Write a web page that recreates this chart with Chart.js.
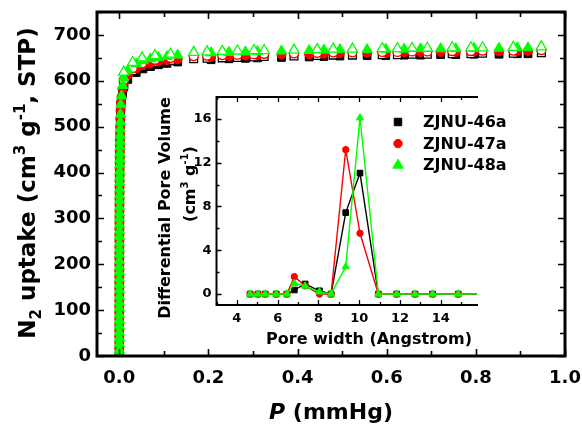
<!DOCTYPE html>
<html>
<head>
<meta charset="utf-8">
<script src="https://cdn.jsdelivr.net/npm/chart.js"></script>
<style>
  body { margin: 0; background: #fff; }
  #wrap { position: relative; width: 582px; height: 427px; }
  #main { position: absolute; left: 0; top: 0; }
  #inset { position: absolute; left: 150px; top: 85px; }
</style>
</head>
<body>
<div id="wrap">
  <canvas id="main" width="582" height="427"></canvas>
  <canvas id="inset" width="380" height="270"></canvas>
</div>
<script>
// ===== main plot: N2 isotherms (filled = adsorption, open = desorption) =====
const pressureAds = [0.00001, 0.000015, 0.00002, 0.000025, 0.00003, 0.000035, 0.00004, 0.00005, 0.00006, 0.00007,
  0.00008, 0.00009, 0.0001, 0.00011, 0.00012, 0.00014, 0.00016, 0.00018, 0.0002, 0.00022,
  0.00025, 0.00028, 0.00031, 0.00035, 0.00039, 0.00044, 0.0005, 0.00056, 0.00063, 0.0007,
  0.00078, 0.00087, 0.00097, 0.0011, 0.0012, 0.0014, 0.0016, 0.0018, 0.002, 0.0023,
  0.0027, 0.0035, 0.005, 0.0075, 0.01, 0.019, 0.038, 0.053, 0.07, 0.088,
  0.107, 0.131, 0.206, 0.246, 0.283, 0.31, 0.364, 0.426, 0.459, 0.495,
  0.556, 0.598, 0.639, 0.676, 0.721, 0.755, 0.796, 0.852, 0.893, 0.917]
const ads46 = [2, 15, 28, 41, 54, 67, 80, 93, 106, 119,
  132, 145, 158, 171, 184, 197, 210, 223, 236, 249,
  262, 275, 288, 301, 314, 327, 340, 353, 366, 379,
  392, 405, 418, 431, 444, 457, 470, 483, 498, 514,
  530, 545, 557, 573, 586, 603, 618, 626, 631, 635,
  638, 641, 646, 648, 649, 650, 651, 652, 653, 654,
  655, 655, 656, 656, 657, 657, 658, 658, 659, 659]
const ads47 = [3, 16, 29, 42, 55, 68, 81, 94, 107, 120,
  133, 146, 159, 172, 185, 198, 211, 224, 237, 250,
  263, 276, 289, 302, 315, 328, 341, 354, 367, 380,
  393, 406, 419, 432, 445, 458, 471, 485, 500, 517,
  535, 553, 565, 582, 595, 612, 627, 634, 638, 642,
  645, 647, 652, 654, 655, 656, 657, 658, 659, 660,
  661, 661, 662, 662, 663, 663, 664, 664, 665, 665]
const ads48 = [1, 13, 27, 39, 52, 66, 78, 91, 105, 117,
  130, 144, 156, 169, 183, 195, 208, 222, 234, 247,
  261, 273, 286, 300, 312, 325, 339, 351, 364, 378,
  390, 403, 417, 429, 442, 456, 468, 481, 495, 510,
  527, 548, 567, 590, 607, 622, 637, 644, 648, 651,
  653, 656, 661, 662, 663, 664, 665, 666, 667, 668,
  668, 669, 669, 670, 670, 670, 671, 671, 672, 672]

const pressureDes = [0.947, 0.884, 0.815, 0.789, 0.747, 0.691, 0.657, 0.624, 0.59, 0.523,
  0.48, 0.444, 0.392, 0.325, 0.302, 0.265, 0.231, 0.197, 0.167, 0.115,
  0.08, 0.051, 0.03, 0.01]
const des46 = [661, 660, 660, 659, 659, 658, 658, 657, 657, 656,
  656, 655, 654, 653, 652, 651, 650, 649, 648, 644,
  640, 632, 622, 592]
const des47 = [667, 666, 666, 665, 665, 664, 664, 663, 663, 662,
  662, 661, 660, 659, 658, 657, 656, 655, 654, 650,
  646, 638, 628, 602]
const des48 = [674, 673, 672, 672, 672, 671, 671, 670, 670, 669,
  669, 668, 667, 666, 666, 665, 664, 663, 662, 658,
  655, 650, 640, 619]

const mainXTicks = [0, 0.2, 0.4, 0.6, 0.8, 1.0]
const mainYTicks = [0, 100, 200, 300, 400, 500, 600, 700]

// ===== inset: pore size distribution =====
const poreWidth = [4.65, 5.03, 5.39, 5.93, 6.45, 6.82, 7.35, 8.05, 8.62, 9.34, 10.04, 10.94, 11.84, 12.74, 13.6, 14.86, 16.2]
const pv46 = [0, 0, 0, 0, 0, 0.37, 0.92, 0.3, 0, 7.44, 11.05, 0, 0, 0, 0, 0, 0]
const pv47 = [0, 0, 0, 0, 0, 1.59, 0.75, 0, 0, 13.19, 5.55, 0, 0, 0, 0, 0, 0]
const pv48 = [0, 0, 0, 0, 0, 0.98, 0.73, 0.2, 0, 2.5, 16.1, 0, 0, 0, 0, 0, 0]

const insetXTicks = [4, 6, 8, 10, 12, 14]
const insetYTicks = [0, 4, 8, 12, 16]

const seriesNames = ['ZJNU-46a', 'ZJNU-47a', 'ZJNU-48a']

const BLACK = '#000000', RED = '#ff0000', GREEN = '#00ff00'
const FONT = '"DejaVu Sans", sans-serif'

const zip = (xs, ys) => xs.map((x, i) => ({ x: x, y: ys[i] }))

// draws a text made of pieces (for sub/superscripts), centred on x,y
function richText(ctx, parts, x, y, angle) {
    ctx.save()
    ctx.translate(x, y)
    ctx.rotate(angle)
    ctx.textAlign = 'left'
    ctx.textBaseline = 'alphabetic'
    ctx.fillStyle = '#000'
    let total = 0
    parts.forEach(p => { ctx.font = p.f; p.w = ctx.measureText(p.t).width; total += p.w })
    let cx = -total / 2
    parts.forEach(p => { ctx.font = p.f; ctx.fillText(p.t, cx, p.dy || 0); cx += p.w })
    ctx.restore()
}

// frame + inward ticks (major and minor)
function frameTicks(chart, o) {
    const { ctx, chartArea: a } = chart
    const x = chart.scales.x, y = chart.scales.y
    ctx.save()
    ctx.strokeStyle = '#000'
    ctx.lineWidth = o.lw
    ctx.lineCap = 'square'
    ctx.beginPath()
    ctx.moveTo(a.left, a.top); ctx.lineTo(a.left, a.bottom)
    ctx.moveTo(a.left, a.bottom); ctx.lineTo(a.right, a.bottom)
    ctx.moveTo(a.left, a.top); ctx.lineTo(a.right, a.top)
    if (o.right) { ctx.moveTo(a.right, a.top); ctx.lineTo(a.right, a.bottom) }
    ctx.stroke()
    ctx.lineWidth = o.tw
    ctx.lineCap = 'butt'
    ctx.beginPath()
    for (let v = o.xStart; v <= x.max + 1e-9; v += o.xStep / 2) {
        if (v < x.min) continue
        const px = Math.round(x.getPixelForValue(v)) + 0.5
        const major = Math.abs(Math.round(v / o.xStep) * o.xStep - v) < 1e-6
        const L = major ? o.major : o.minor
        ctx.moveTo(px, a.bottom); ctx.lineTo(px, a.bottom - L)
        ctx.moveTo(px, a.top); ctx.lineTo(px, a.top + L)
    }
    for (let v = o.yStart; v <= y.max + 1e-9; v += o.yStep / 2) {
        if (v < y.min) continue
        const py = Math.round(y.getPixelForValue(v)) + 0.5
        const major = Math.abs(Math.round(v / o.yStep) * o.yStep - v) < 1e-6
        const L = major ? o.major : o.minor
        ctx.moveTo(a.left, py); ctx.lineTo(a.left + L, py)
        if (o.right) { ctx.moveTo(a.right, py); ctx.lineTo(a.right - L, py) }
    }
    ctx.stroke()
    ctx.restore()
}

function setTicks(list) {
    return scale => { scale.ticks = list.map(v => ({ value: v })) }
}

// fixed axis size, no extra label padding in the layout
function fixSize(prop, size) {
    return s => {
        s[prop] = size
        s.paddingTop = 0; s.paddingBottom = 0; s.paddingLeft = 0; s.paddingRight = 0
    }
}

// ============ main chart ============ //
function isoSet(data, color, style, r, open, order) {
    return {
        data: data,
        showLine: false,
        pointStyle: style,
        pointRadius: r,
        pointHoverRadius: r,
        pointBackgroundColor: open ? '#ffffff' : color,
        pointBorderColor: color,
        pointBorderWidth: open ? 1.3 : 1,
        order: order
    }
}

const mainPlugin = {
    id: 'mainDeco',
    afterDraw(chart) {
        frameTicks(chart, { lw: 3, tw: 1.6, major: 7, minor: 5, right: true,
            xStart: 0, xStep: 0.2, yStart: 0, yStep: 100 })
        const ctx = chart.ctx
        const big = 'bold 23px ' + FONT, small = 'bold 15px ' + FONT
        richText(ctx, [
            { t: 'N', f: big }, { t: '2', f: small, dy: 6 },
            { t: ' uptake (cm', f: big }, { t: '3', f: small, dy: -10 },
            { t: ' g', f: big }, { t: '-1', f: small, dy: -10 },
            { t: ', STP)', f: big }
        ], 35, 183, -Math.PI / 2)
        richText(ctx, [
            { t: 'P', f: 'italic bold 22px ' + FONT },
            { t: ' (mmHg)', f: 'bold 22px ' + FONT }
        ], 331, 419, 0)
    }
}

new Chart(document.getElementById('main'), {
    type: 'scatter',
    data: {
        datasets: [
            isoSet(zip(pressureDes, des48), GREEN, 'triangle', 6, true, 0),
            isoSet(zip(pressureAds, ads48), GREEN, 'triangle', 6, false, 1),
            isoSet(zip(pressureDes, des47), RED, 'circle', 4.5, true, 2),
            isoSet(zip(pressureAds, ads47), RED, 'circle', 4.5, false, 3),
            isoSet(zip(pressureDes, des46), BLACK, 'rect', 5.5, true, 4),
            isoSet(zip(pressureAds, ads46), BLACK, 'rect', 5.5, false, 5)
        ]
    },
    options: {
        responsive: false,
        animation: false,
        devicePixelRatio: 1,
        layout: { padding: { left: 0, right: 17, top: 12, bottom: 0 } },
        plugins: { legend: { display: false }, tooltip: { enabled: false } },
        scales: {
            x: {
                type: 'linear', min: -0.05, max: 1.0,
                afterBuildTicks: setTicks(mainXTicks),
                afterFit: fixSize('height', 71),
                grid: { display: false, drawTicks: false },
                border: { display: false },
                ticks: { padding: 12, color: '#000', font: { family: FONT, size: 18, weight: 'bold' },
                    maxRotation: 0, callback: v => v.toFixed(1) }
            },
            y: {
                type: 'linear', min: 0, max: 750,
                afterBuildTicks: setTicks(mainYTicks),
                afterFit: fixSize('width', 97),
                grid: { display: false, drawTicks: false },
                border: { display: false },
                ticks: { padding: 6, color: '#000', font: { family: FONT, size: 18, weight: 'bold' } }
            }
        }
    },
    plugins: [mainPlugin]
})

// ============ inset chart ============ //
function psdSet(ys, color, style, r, order, label) {
    return {
        label: label,
        data: zip(poreWidth, ys),
        showLine: true,
        borderColor: color,
        borderWidth: 1.4,
        pointStyle: style,
        pointRadius: r,
        pointHoverRadius: r,
        pointBackgroundColor: color,
        pointBorderColor: color,
        pointBorderWidth: 1,
        order: order
    }
}

const insetPlugin = {
    id: 'insetDeco',
    afterDraw(chart) {
        frameTicks(chart, { lw: 2, tw: 1.3, major: 5, minor: 3, right: false,
            xStart: 3, xStep: 2, yStart: -2, yStep: 4 })
        const ctx = chart.ctx
        const f = 'bold 16px ' + FONT, s = 'bold 10px ' + FONT
        // offsets: inset canvas sits at (150, 85)
        richText(ctx, [{ t: 'Differential Pore Volume', f: f }], 170 - 150, 208 - 85, -Math.PI / 2)
        richText(ctx, [
            { t: '(cm', f: f }, { t: '3', f: s, dy: -7 },
            { t: ' g', f: f }, { t: '-1', f: s, dy: -7 },
            { t: ')', f: f }
        ], 195 - 150, 184 - 85, -Math.PI / 2)
        richText(ctx, [{ t: 'Pore width (Angstrom)', f: f }], 369 - 150, 344 - 85, 0)

        // legend
        const styles = [
            { pointStyle: 'rect', radius: 5.3, color: BLACK },
            { pointStyle: 'circle', radius: 4.2, color: RED },
            { pointStyle: 'triangle', radius: 6, color: GREEN }
        ]
        ctx.save()
        seriesNames.forEach((name, i) => {
            const ly = 122 + i * 21.6 - 85
            const st = styles[i]
            ctx.fillStyle = st.color
            ctx.strokeStyle = st.color
            Chart.helpers.drawPoint(ctx, { pointStyle: st.pointStyle, radius: st.radius, rotation: 0, borderWidth: 1 }, 398 - 150, ly)
            ctx.fillStyle = '#000'
            ctx.font = 'bold 16px ' + FONT
            ctx.textAlign = 'left'
            ctx.textBaseline = 'middle'
            ctx.fillText(name, 423 - 150, ly + 1)
        })
        ctx.restore()
    }
}

new Chart(document.getElementById('inset'), {
    type: 'scatter',
    data: {
        datasets: [
            psdSet(pv48, GREEN, 'triangle', 4.2, 0, seriesNames[2]),
            psdSet(pv47, RED, 'circle', 3.2, 1, seriesNames[1]),
            psdSet(pv46, BLACK, 'rect', 4, 2, seriesNames[0])
        ]
    },
    options: {
        responsive: false,
        animation: false,
        devicePixelRatio: 1,
        layout: { padding: { left: 0, right: 53, top: 12, bottom: 0 } },
        plugins: { legend: { display: false }, tooltip: { enabled: false } },
        scales: {
            x: {
                type: 'linear', min: 3, max: 15.78,
                afterBuildTicks: setTicks(insetXTicks),
                afterFit: fixSize('height', 50),
                grid: { display: false, drawTicks: false },
                border: { display: false },
                ticks: { padding: 6, color: '#000', font: { family: FONT, size: 13, weight: 'bold' }, maxRotation: 0 }
            },
            y: {
                type: 'linear', min: -1, max: 18,
                afterBuildTicks: setTicks(insetYTicks),
                afterFit: fixSize('width', 66.5),
                grid: { display: false, drawTicks: false },
                border: { display: false },
                ticks: { padding: 5, color: '#000', font: { family: FONT, size: 13, weight: 'bold' } }
            }
        }
    },
    plugins: [insetPlugin]
})
</script>
</body>
</html>
